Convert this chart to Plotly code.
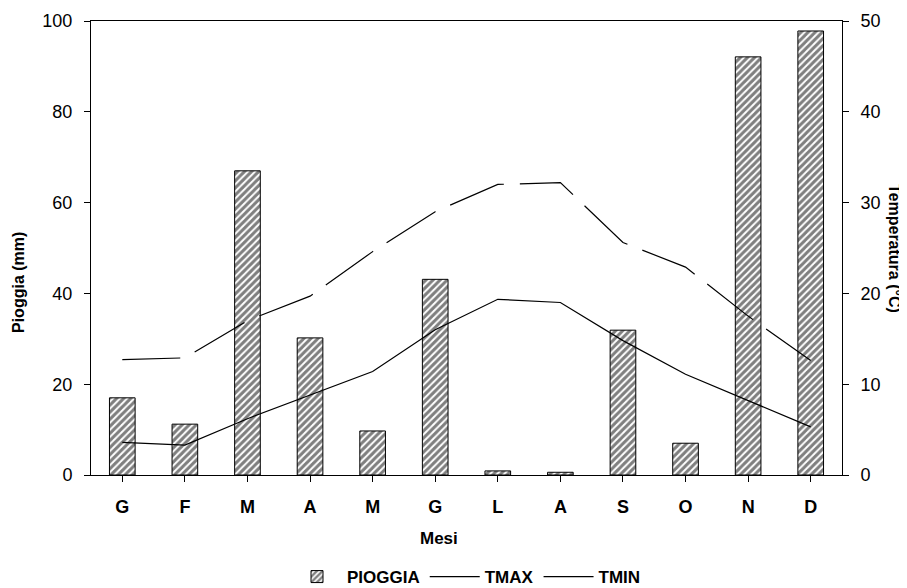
import plotly.graph_objects as go

mesi = ["G", "F", "M", "A", "M", "G", "L", "A", "S", "O", "N", "D"]
pioggia = [17.0, 11.2, 67.0, 30.2, 9.7, 43.1, 0.9, 0.6, 31.9, 7.0, 92.1, 97.8]
tmax = [12.7, 12.9, 17.0, 19.7, 24.6, 29.0, 32.0, 32.2, 25.6, 22.9, 17.5, 12.6]
tmin = [3.6, 3.3, 6.2, 8.8, 11.4, 16.0, 19.35, 19.0, 14.8, 11.1, 8.2, 5.3]

x = list(range(len(mesi)))
FONT = "Liberation Sans, Arial, sans-serif"

fig = go.Figure()
fig.add_trace(go.Bar(
    x=x, y=pioggia, name="PIOGGIA",
    marker=dict(color="white", line=dict(color="black", width=1),
                pattern=dict(shape="/", fgcolor="black", bgcolor="white",
                             size=5, solidity=0.6)),
    yaxis="y",
))
fig.add_trace(go.Scatter(
    x=x, y=tmax, name="TMAX", mode="lines",
    line=dict(color="black", width=1.2, dash="58px,16px"),
    yaxis="y2",
))
fig.add_trace(go.Scatter(
    x=x, y=tmin, name="TMIN", mode="lines",
    line=dict(color="black", width=1.2),
    yaxis="y2",
))

# page body has an 8px margin: figure origin sits at (8, 8) in the window
fig.update_layout(
    width=899, height=580,
    margin=dict(l=83, r=65, t=13, b=113, autoexpand=False),
    paper_bgcolor="white", plot_bgcolor="white",
    font=dict(family=FONT, size=18, color="black"),
    bargap=0.59,
    showlegend=True,
    legend=dict(orientation="h", x=0.5, xanchor="center", y=-0.2247, yanchor="middle",
                font=dict(family=FONT, size=17, color="black", weight="bold"),
                itemwidth=50, tracegroupgap=0),
    xaxis=dict(
        tickmode="array", tickvals=x, ticktext=mesi,
        range=[-0.5, 11.5], tickson="boundaries",
        ticks="outside", ticklen=6, tickcolor="black",
        showline=True, linecolor="black", linewidth=1, mirror=True,
        showgrid=False, zeroline=False, automargin=False,
        tickfont=dict(family=FONT, size=18, weight="bold"),
        ticklabelstandoff=9,
    ),
    yaxis=dict(
        range=[0, 100], tickvals=[0, 20, 40, 60, 80, 100],
        ticks="outside", ticklen=6, tickcolor="black",
        showline=True, linecolor="black", linewidth=1,
        showgrid=False, zeroline=False, automargin=False,
        tickfont=dict(family=FONT, size=18),
        ticklabelstandoff=8,
    ),
    yaxis2=dict(
        range=[0, 50], tickvals=[0, 10, 20, 30, 40, 50],
        overlaying="y", side="right",
        ticks="outside", ticklen=6, tickcolor="black",
        showline=True, linecolor="black", linewidth=1,
        showgrid=False, zeroline=False, automargin=False,
        tickfont=dict(family=FONT, size=18),
        ticklabelstandoff=8,
    ),
)

title_font = dict(family=FONT, size=16, color="black", weight="bold")
fig.add_annotation(
    text="Pioggia (mm)", xref="paper", yref="paper",
    x=(18 - 91) / 751, y=(475 - 283) / 454, xanchor="center", yanchor="middle",
    textangle=-90, showarrow=False, font=title_font,
)
fig.add_annotation(
    text="Temperatura (°C)", xref="paper", yref="paper",
    x=(895 - 91) / 751, y=(475 - 248) / 454, xanchor="center", yanchor="middle",
    textangle=90, showarrow=False, font=title_font,
)
fig.add_annotation(
    text="Mesi", xref="paper", yref="paper",
    x=(439 - 91) / 751, y=(475 - 538) / 454, xanchor="center", yanchor="middle",
    showarrow=False, font=dict(family=FONT, size=17, color="black", weight="bold"),
)

fig.write_html("out.html")
